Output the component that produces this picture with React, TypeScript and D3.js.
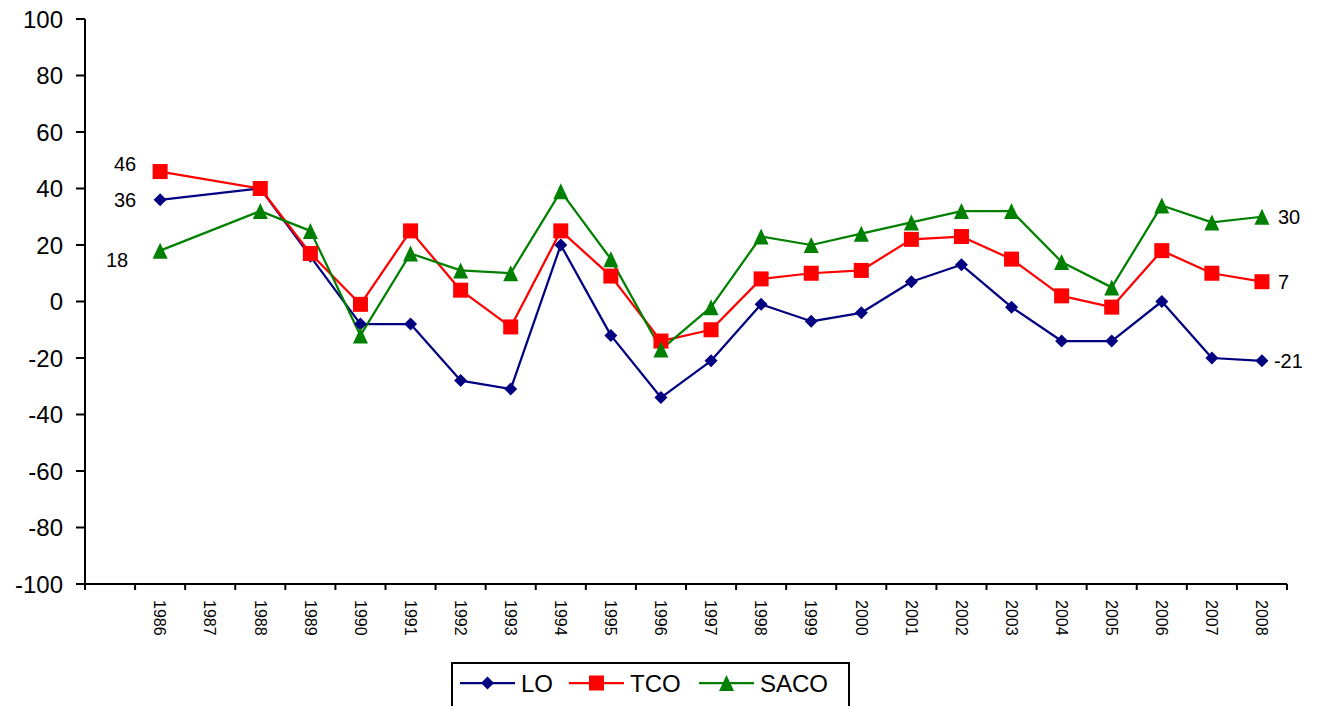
import React from "react";
import * as d3 from "d3";

const categories = ["", "1986", "1987", "1988", "1989", "1990", "1991", "1992", "1993", "1994", "1995", "1996", "1997", "1998", "1999", "2000", "2001", "2002", "2003", "2004", "2005", "2006", "2007", "2008"];
const years = categories.slice(1);

const loValues: (number | null)[] = [36, null, 40, 16, -8, -8, -28, -31, 20, -12, -34, -21, -1, -7, -4, 7, 13, -2, -14, -14, 0, -20, -21];
const tcoValues: (number | null)[] = [46, null, 40, 17, -1, 25, 4, -9, 25, 9, -14, -10, 8, 10, 11, 22, 23, 15, 2, -2, 18, 10, 7];
const sacoValues: (number | null)[] = [18, null, 32, 25, -12, 17, 11, 10, 39, 15, -17, -2, 23, 20, 24, 28, 32, 32, 14, 5, 34, 28, 30];

const yTicks = [100, 80, 60, 40, 20, 0, -20, -40, -60, -80, -100];

const seriesNames = ["LO", "TCO", "SACO"];
const seriesColors = ["#000080", "#FF0000", "#008000"];
const seriesShapes = ["diamond", "square", "triangle"];
const seriesValues = [loValues, tcoValues, sacoValues];

const FONT = "Arial, 'Liberation Sans', sans-serif";

function Marker({ shape, x, y, color }: { shape: string; x: number; y: number; color: string }) {
  if (shape === "diamond") {
    const r = 6.5;
    return <path d={`M${x},${y - r}L${x + r},${y}L${x},${y + r}L${x - r},${y}Z`} fill={color} />;
  }
  if (shape === "square") {
    const s = 7.5;
    return <rect x={x - s} y={y - s} width={2 * s} height={2 * s} fill={color} />;
  }
  const h = 8;
  const w = 7.5;
  return <path d={`M${x},${y - h}L${x + w},${y + h}L${x - w},${y + h}Z`} fill={color} />;
}

export default function App() {
  const left = 85;
  const right = 1287;
  const top = 19;
  const bottom = 584;

  const x = d3.scaleBand<string>().domain(categories).range([left, right]).paddingInner(0).paddingOuter(0);
  const y = d3.scaleLinear().domain([-100, 100]).range([bottom, top]);
  const cx = (yr: string) => (x(yr) as number) + x.bandwidth() / 2;

  const line = d3
    .line<{ yr: string; v: number }>()
    .x((d) => cx(d.yr))
    .y((d) => y(d.v));

  const seriesPoints = seriesValues.map((vals) =>
    years
      .map((yr, i) => ({ yr, v: vals[i] }))
      .filter((d) => d.v !== null) as { yr: string; v: number }[]
  );

  const boundaries = d3.range(categories.length + 1).map((i) => left + i * x.bandwidth());

  // data labels (series index, year index, anchor, dx, dy)
  const labels = [
    { s: 1, i: 0, anchor: "end", dx: -24, dy: -8 },
    { s: 0, i: 0, anchor: "end", dx: -24, dy: 0 },
    { s: 2, i: 0, anchor: "end", dx: -32, dy: 9 },
    { s: 2, i: 22, anchor: "start", dx: 16, dy: 0 },
    { s: 1, i: 22, anchor: "start", dx: 16, dy: 0 },
    { s: 0, i: 22, anchor: "start", dx: 12, dy: 0 },
  ];

  const legendItems = [
    { lx: 460, tx: 521 },
    { lx: 569, tx: 630 },
    { lx: 699, tx: 760 },
  ];
  const legendY = 683;

  return (
    <svg
      width={1320}
      height={706}
      style={{ position: "absolute", left: 0, top: 0, display: "block", background: "#fff" }}
      fontFamily={FONT}
    >
      {/* Y axis */}
      <line x1={left} x2={left} y1={top} y2={bottom} stroke="#000" strokeWidth={2} />
      {yTicks.map((t) => (
        <g key={t}>
          <line x1={left - 9} x2={left} y1={y(t)} y2={y(t)} stroke="#000" strokeWidth={2} />
          <text x={63} y={y(t)} dy="0.36em" textAnchor="end" fontSize={24} fill="#000">
            {t}
          </text>
        </g>
      ))}
      {/* X axis */}
      <line x1={left} x2={right} y1={bottom} y2={bottom} stroke="#000" strokeWidth={2} />
      {boundaries.map((bx, i) => (
        <line key={i} x1={bx} x2={bx} y1={bottom} y2={bottom + 6} stroke="#000" strokeWidth={2} />
      ))}
      {years.map((yr) => (
        <text
          key={yr}
          transform={`translate(${cx(yr)},${600}) rotate(90)`}
          dy="0.36em"
          textAnchor="start"
          fontSize={16}
          fill="#000"
        >
          {yr}
        </text>
      ))}

      {/* lines */}
      {seriesPoints.map((pts, s) => (
        <path key={s} d={line(pts) as string} fill="none" stroke={seriesColors[s]} strokeWidth={2.25} strokeLinejoin="round" />
      ))}
      {/* markers */}
      {seriesPoints.map((pts, s) => (
        <g key={s}>
          {pts.map((p) => (
            <Marker key={p.yr} shape={seriesShapes[s]} x={cx(p.yr)} y={y(p.v)} color={seriesColors[s]} />
          ))}
        </g>
      ))}

      {/* data labels */}
      {labels.map((l, k) => {
        const v = seriesValues[l.s][l.i] as number;
        const yr = years[l.i];
        return (
          <text
            key={k}
            x={cx(yr) + l.dx}
            y={y(v) + l.dy}
            dy="0.36em"
            textAnchor={l.anchor as any}
            fontSize={20}
            fill="#000"
          >
            {v}
          </text>
        );
      })}

      {/* legend */}
      <rect x={452} y={663} width={397} height={60} fill="#fff" stroke="#000" strokeWidth={2} />
      {seriesNames.map((name, s) => {
        const it = legendItems[s];
        return (
          <g key={name}>
            <line x1={it.lx} x2={it.lx + 55} y1={legendY} y2={legendY} stroke={seriesColors[s]} strokeWidth={2.25} />
            <Marker shape={seriesShapes[s]} x={it.lx + 27.5} y={legendY} color={seriesColors[s]} />
            <text x={it.tx} y={legendY} dy="0.36em" fontSize={24} fill="#000">
              {name}
            </text>
          </g>
        );
      })}
    </svg>
  );
}
